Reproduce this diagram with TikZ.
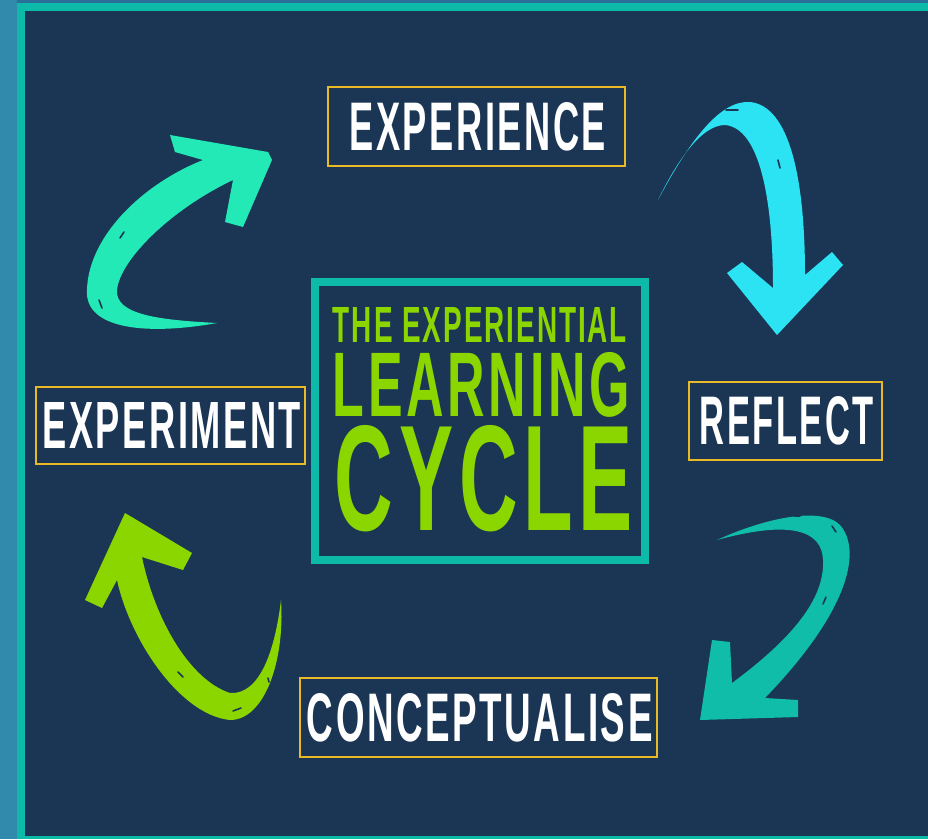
\documentclass[tikz,border=0pt]{standalone}
\usepackage{graphicx}
\usepackage{fontspec}
\setmainfont{Liberation Sans}
\newfontfamily\labelfont[LetterSpace=7]{Liberation Sans}
\definecolor{navy}{HTML}{1B3655}
\definecolor{frameteal}{HTML}{0DB9A9}
\definecolor{stripblue}{HTML}{3189AB}
\definecolor{topblue}{HTML}{2A6E9A}
\definecolor{arcyan}{HTML}{2BE3F2}
\definecolor{armint}{HTML}{22E9B5}
\definecolor{arteal}{HTML}{0FBDA8}
\definecolor{argreen}{HTML}{8CD600}
\definecolor{boxyellow}{HTML}{E9BA25}
\newcommand{\fitword}[3]{\resizebox{#1pt}{#2pt}{\labelfont\bfseries #3\kern-0.07em}}
\tikzset{
  stagebox/.style={draw=boxyellow, line width=1.6pt, inner sep=0pt, text=white},
  titletext/.style={inner sep=0pt, text=argreen},
  brush/.style={line join=round},
  scratch/.style={draw=navy, line width=1.6pt, line cap=round}
}
\begin{document}
\begin{tikzpicture}[x=1pt,y=-1pt]
\useasboundingbox (0,0) rectangle (928,839);
% background layers
\fill[stripblue] (0,0) rectangle (928,839);
\fill[topblue] (17,0) rectangle (928,3);
\fill[frameteal] (17,3) rectangle (928,839);
\fill[navy] (25,11) rectangle (928,836);

% centre title box
\node[draw=frameteal, line width=8pt, minimum width=330pt, minimum height=278pt] (centre) at (480,421) {};
\node[titletext] (t1) at (479,325) {\fitword{292}{35}{THE EXPERIENTIAL}};
\node[titletext] (t2) at (479.5,385) {\fitword{293}{64}{LEARNING}};
\node[titletext] (t3) at (481,479) {\fitword{292}{105}{CYCLE}};

% stage labels
\node[stagebox, minimum width=297pt, minimum height=79pt] (experience) at (476.5,126.5) {\fitword{254}{48}{EXPERIENCE}};
\node[stagebox, minimum width=193pt, minimum height=78pt] (reflect) at (785.5,421) {\fitword{171}{48}{REFLECT}};
\node[stagebox, minimum width=357pt, minimum height=79pt] (conceptualise) at (478.5,717.5) {\fitword{343}{48}{CONCEPTUALISE}};
\node[stagebox, minimum width=269pt, minimum height=77pt] (experiment) at (170.5,425.5) {\fitword{256}{46}{EXPERIMENT}};

% arrow: experience -> reflect (cyan)
\fill[arcyan, brush] (658,200) .. controls (690,140) and (720,100) .. (750,102)
  .. controls (790,106) and (805,180) .. (805,275) -- (832,252) -- (843,265)
  -- (777,335) -- (727,273) -- (742,262) -- (773,288)
  .. controls (773,200) and (760,128) .. (725,125)
  .. controls (700,125) and (675,165) .. (658,200) -- cycle;
\draw[scratch] (726,110) -- (738,110);
\draw[scratch] (778,160) -- (780,168);
\draw[scratch] (697,130) -- (700,127);

% arrow: reflect -> conceptualise (teal)
\fill[arteal, brush] (717,540) .. controls (760,520) and (820,505) .. (840,525)
  .. controls (862,550) and (850,610) .. (765,698) -- (798,700) -- (798,717)
  -- (700,720) -- (712,640) -- (730,642) -- (732,683)
  .. controls (790,640) and (825,600) .. (823,560)
  .. controls (822,530) and (790,520) .. (717,540) -- cycle;
\draw[scratch] (832,526) -- (836,532);
\draw[scratch] (826,597) -- (823,604);
\draw[scratch] (795,516) -- (800,516);

% arrow: conceptualise -> experiment (green)
\fill[argreen, brush] (125,513) -- (192,553) -- (183,570) -- (142,557)
  .. controls (155,620) and (190,680) .. (230,693)
  .. controls (260,695) and (275,650) .. (281,600)
  .. controls (285,660) and (265,720) .. (230,720)
  .. controls (180,715) and (130,640) .. (117,580) -- (102,608) -- (85,600) -- cycle;
\draw[scratch] (178,672) -- (183,677);
\draw[scratch] (233,711) -- (241,708);
\draw[scratch] (268,678) -- (269,682);

% arrow: experiment -> experience (mint)
\fill[armint, brush] (170,135) -- (268,152) -- (272,160) -- (243,227) -- (225,222)
  -- (233,180) .. controls (170,210) and (120,260) .. (117,290)
  .. controls (115,315) and (160,320) .. (217,323)
  .. controls (150,335) and (90,330) .. (87,295)
  .. controls (85,240) and (140,185) .. (203,160) -- (175,152) -- cycle;
\draw[scratch] (120,238) -- (124,232);
\draw[scratch] (99,300) -- (102,308);
\end{tikzpicture}
\end{document}
